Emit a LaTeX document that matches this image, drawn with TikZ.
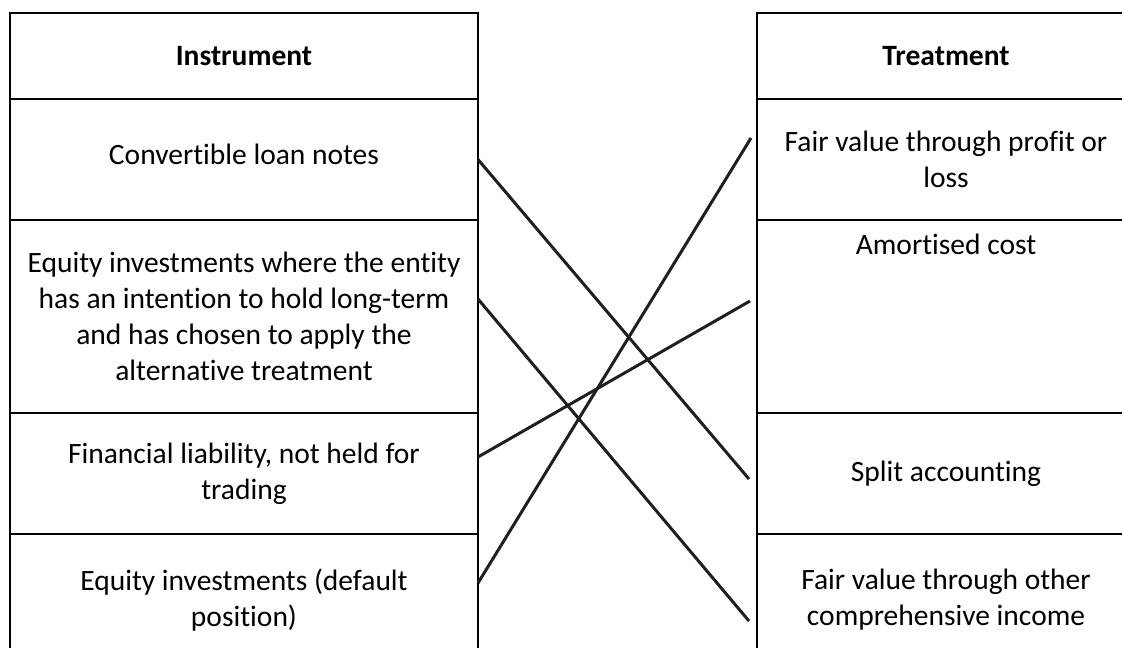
\documentclass[tikz,border=0pt]{standalone}
\usepackage{fontspec}
\setmainfont{Carlito}[Ligatures=NoCommon]
\usepackage{tikz}
\usetikzlibrary{positioning}

\begin{document}
\begin{tikzpicture}
	[x=1pt, y=-1pt, node distance={0pt},
	cell/.style = {draw, line width=2pt, rectangle, outer sep=0pt, inner sep=0pt, align=center, font=\fontsize{29.5}{36}\selectfont},
	lcell/.style = {cell, minimum width=468pt},
	rcell/.style = {cell, minimum width=378pt},
	link/.style = {line width=3pt, draw=black!88}]
	\useasboundingbox (0,0) rectangle (1122,648);
	\clip (0,0) rectangle (1122,648);
	% left column
	\node[lcell, minimum height=86pt] (ins) at (244,56) {\textbf{Instrument}};
	\node[lcell, minimum height=121pt] (conv) [below = of ins] {Convertible loan notes\\[-26pt]};
	\node[lcell, minimum height=193pt] (eqlt) [below = of conv] {Equity investments where the entity\\has an intention to hold long-term\\and has chosen to apply the\\alternative treatment};
	\node[lcell, minimum height=121pt] (finl) [below = of eqlt] {Financial liability, not held for\\trading};
	\node[lcell, minimum height=132pt] (eqdf) [below = of finl] {Equity investments (default\\position)};
	% right column
	\node[rcell, minimum height=86pt] (treat) at (946,56) {\textbf{Treatment}};
	\node[rcell, minimum height=121pt] (fvpl) [below = of treat] {Fair value through profit or\\loss};
	\node[rcell, minimum height=193pt] (amort) [below = of fvpl] {Amortised cost\\[108pt]};
	\node[rcell, minimum height=121pt] (split) [below = of amort] {Split accounting};
	\node[rcell, minimum height=132pt] (fvoci) [below = of split] {Fair value through other\\comprehensive income};
	% matching lines
	\draw[link] (conv.east) -- ([xshift=-8pt, yshift=-5.5pt]split.west);
	\draw[link] ([yshift=17.5pt]eqlt.east) -- ([xshift=-8pt, yshift=-21pt]fvoci.west);
	\draw[link] ([yshift=16.5pt]finl.east) -- ([xshift=-7pt, yshift=15.5pt]amort.west);
	\draw[link] ([yshift=17pt]eqdf.east) -- ([xshift=-6pt, yshift=21.5pt]fvpl.west);
\end{tikzpicture}
\end{document}
